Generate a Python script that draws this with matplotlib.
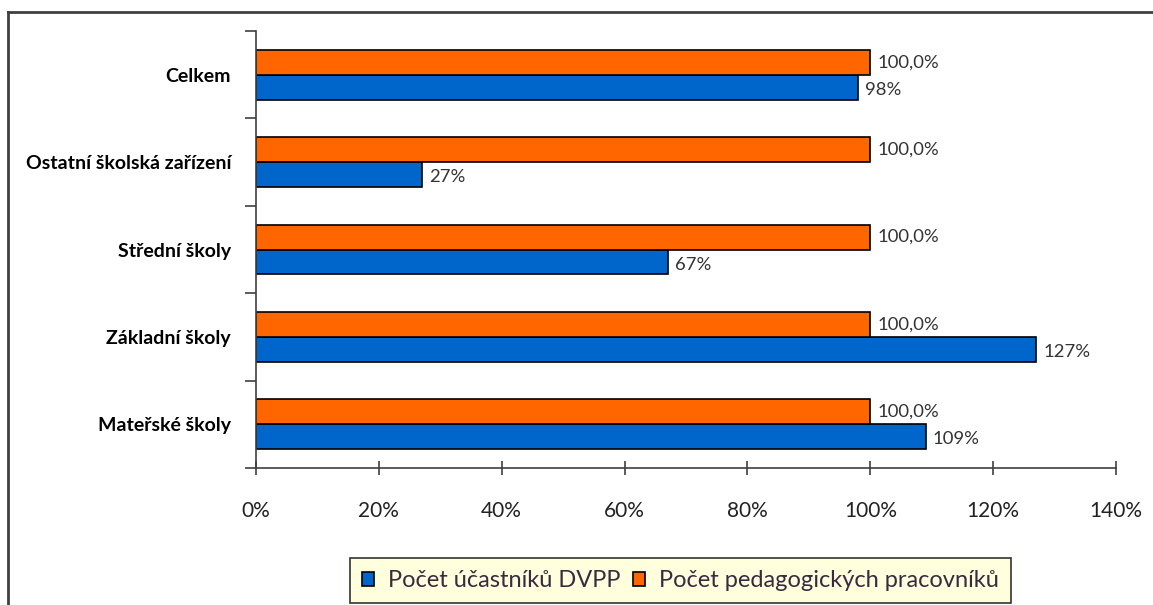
import numpy as np
import matplotlib
matplotlib.use("Agg")
from matplotlib import pyplot as plt
from matplotlib.lines import Line2D

categories = ["Mateřské školy", "Základní školy", "Střední školy",
              "Ostatní školská zařízení", "Celkem"]
ucastnici = [109, 127, 67, 27, 98]
pracovnici = [100, 100, 100, 100, 100]
ucastnici_labels = ["109%", "127%", "67%", "27%", "98%"]
pracovnici_labels = ["100,0%"] * 5
xticks = [0, 20, 40, 60, 80, 100, 120, 140]
series_names = ["Počet účastníků DVPP", "Počet pedagogických pracovníků"]

plt.rcParams['font.family'] = ['Lato', 'DejaVu Sans']

W, H = 1153, 605
fig = plt.figure(figsize=(W / 100, H / 100), dpi=100)
ax = fig.add_axes([256 / W, (H - 468) / H, (1116 - 256) / W, (468 - 31) / H])

y = np.arange(len(categories))
h = 0.286
b1 = ax.barh(y - h / 2, ucastnici, height=h, color='#0066CC', edgecolor='black', lw=1.2,
             label=series_names[0])
b2 = ax.barh(y + h / 2, pracovnici, height=h, color='#FF6600', edgecolor='black', lw=1.2,
             label=series_names[1])

for i in range(len(categories)):
    ax.text(ucastnici[i] + 1.2, y[i] - h / 2 - 0.03, ucastnici_labels[i], va='center', ha='left',
            fontsize=13.3, color='#333333')
    ax.text(pracovnici[i] + 1.2, y[i] + h / 2, pracovnici_labels[i], va='center', ha='left',
            fontsize=13.3, color='#333333')

ax.set_xlim(0, 140)
ax.set_ylim(-0.5, len(categories) - 0.5)
ax.set_xticks(xticks)
ax.set_xticklabels([f"{v}%" for v in xticks], fontsize=15, color='#222222')
ax.set_yticks(y)
ax.set_yticklabels(categories, fontsize=14, fontweight='bold')
ax.tick_params(axis='y', which='major', length=0, pad=18)
ax.set_yticks(np.arange(-0.5, len(categories)), minor=True)
ax.tick_params(axis='y', which='minor', length=8, width=1.2, color='#404040')
ax.tick_params(axis='x', length=10, width=1.2, color='#404040', pad=19, direction='inout')

for s in ['top', 'right']:
    ax.spines[s].set_visible(False)
for s in ['left', 'bottom']:
    ax.spines[s].set_color('#404040')
    ax.spines[s].set_linewidth(1.2)

leg = fig.legend(handles=[b1, b2], loc='lower left', bbox_to_anchor=(350 / W, 2 / H),
                 ncol=2, fontsize=17, frameon=True, fancybox=False, edgecolor='#333333',
                 facecolor='#FFFFDD', framealpha=1, handlelength=0.52, handleheight=0.52,
                 handletextpad=0.6, columnspacing=0.5, borderpad=0.5, borderaxespad=0)
leg.get_frame().set_linewidth(1.2)
for t in leg.get_texts():
    t.set_color('#3a2a40')

# outer frame of the chart
fig.add_artist(Line2D([8 / W, 8 / W], [0, 1 - 12 / H], color='#404040', lw=2))
fig.add_artist(Line2D([8 / W, 1], [1 - 12 / H, 1 - 12 / H], color='#404040', lw=2))

fig.savefig("out.png", dpi=100)
